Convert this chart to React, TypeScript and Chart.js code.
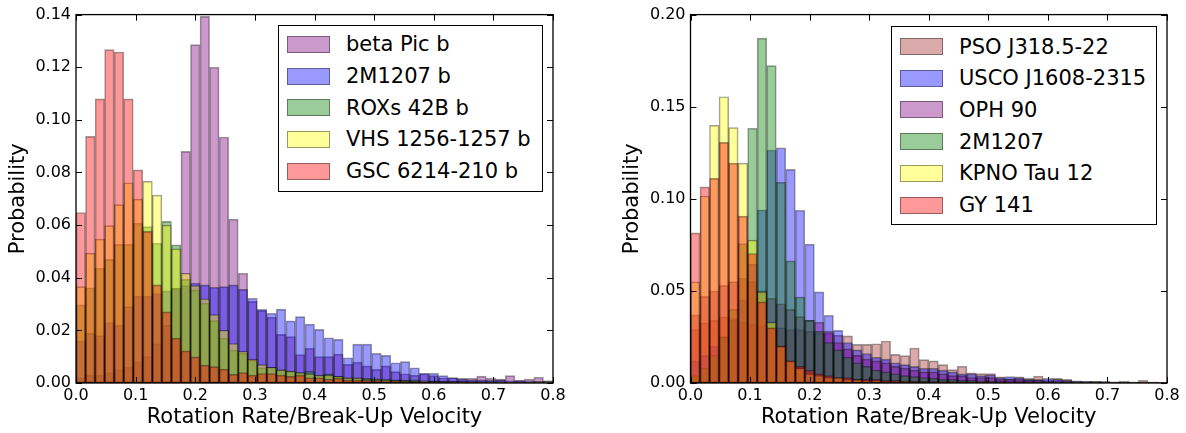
import React, { useEffect, useRef } from "react";
import { Chart, registerables } from "chart.js";

Chart.register(...registerables);

// ---------- shared axis data ----------
const BIN_WIDTH = 0.016;
const BIN_COUNT = 50;
const binCenters = Array.from({ length: BIN_COUNT }, (_, i) => +((i + 0.5) * BIN_WIDTH).toFixed(4));
const X_MIN = 0;
const X_MAX = 0.8;
const X_STEP = 0.1;
const X_TITLE = "Rotation Rate/Break-Up Velocity";
const Y_TITLE = "Probability";

// ---------- left panel ----------
const leftLabels = ["beta Pic b", "2M1207 b", "ROXs 42B b", "VHS 1256-1257 b", "GSC 6214-210 b"];
const LEFT_Y_MAX = 0.14;
const LEFT_Y_STEP = 0.02;

const betaPicB = [
  0.002, 0.003, 0.003, 0.004, 0.005, 0.006, 0.008, 0.010, 0.015, 0.022,
  0.036, 0.088, 0.1286, 0.1393, 0.120, 0.0935, 0.0623, 0.0417, 0.031, 0.0275,
  0.025, 0.0185, 0.0176, 0.0108, 0.0132, 0.010, 0.010, 0.011, 0.0071, 0.0079,
  0.0065, 0.0052, 0.0065, 0.0043, 0.0035, 0.003, 0.0035, 0.0028, 0.002, 0.002,
  0.0018, 0.0018, 0.0026, 0.0018, 0.0015, 0.0028, 0.001, 0.0015, 0.0022, 0.0008,
];
const m1207b = [
  0.016, 0.019, 0.018, 0.023, 0.022, 0.029, 0.033, 0.033, 0.034, 0.035,
  0.036, 0.037, 0.038, 0.0373, 0.0364, 0.0366, 0.0373, 0.0356, 0.0322, 0.028,
  0.0265, 0.0281, 0.0236, 0.0252, 0.0224, 0.0204, 0.0172, 0.0166, 0.0096, 0.0148,
  0.0148, 0.0113, 0.0105, 0.0077, 0.0081, 0.0058, 0.0037, 0.0037, 0.0028, 0.0021,
  0.0015, 0.0012, 0.0012, 0.001, 0.0012, 0.0008, 0.0009, 0.0007, 0.0006, 0.0005,
];
const roxs42Bb = [
  0.0297, 0.0362, 0.0436, 0.047, 0.0527, 0.0527, 0.0607, 0.0594, 0.0531, 0.0614,
  0.0525, 0.0394, 0.0354, 0.0303, 0.0237, 0.017, 0.0125, 0.0113, 0.0087, 0.0058,
  0.006, 0.005, 0.0045, 0.004, 0.0045, 0.003, 0.0035, 0.0025, 0.002, 0.002,
  0.0018, 0.0015, 0.0015, 0.0012, 0.001, 0.0012, 0.0008, 0.0008, 0.0007, 0.0006,
  0.0006, 0.0005, 0.0005, 0.0004, 0.0005, 0.0004, 0.0003, 0.0003, 0.0004, 0.0008,
];
const vhs1256b = [
  0.0366, 0.0493, 0.0547, 0.0598, 0.0678, 0.0761, 0.0699, 0.0766, 0.0714, 0.060,
  0.051, 0.0417, 0.037, 0.032, 0.026, 0.020, 0.015, 0.012, 0.009, 0.007,
  0.006, 0.005, 0.0045, 0.004, 0.0035, 0.003, 0.003, 0.0025, 0.002, 0.002,
  0.0015, 0.0015, 0.0012, 0.001, 0.001, 0.0008, 0.0008, 0.0006, 0.0006, 0.0005,
  0.0005, 0.0004, 0.0004, 0.0003, 0.0003, 0.0003, 0.0002, 0.0002, 0.0002, 0.0002,
];
const gsc6214b = [
  0.0648, 0.0937, 0.108, 0.1267, 0.1258, 0.108, 0.081, 0.0576, 0.0373, 0.027,
  0.017, 0.0122, 0.0099, 0.0068, 0.0062, 0.0053, 0.0033, 0.004, 0.003, 0.0036,
  0.0036, 0.003, 0.0025, 0.003, 0.002, 0.002, 0.0015, 0.0018, 0.0012, 0.0012,
  0.001, 0.001, 0.0008, 0.0008, 0.0006, 0.0006, 0.0005, 0.0005, 0.0004, 0.0004,
  0.0003, 0.0003, 0.0003, 0.0002, 0.0002, 0.0002, 0.0002, 0.0001, 0.0001, 0.0001,
];

// ---------- right panel ----------
const rightLabels = ["PSO J318.5-22", "USCO J1608-2315", "OPH 90", "2M1207", "KPNO Tau 12", "GY 141"];
const RIGHT_Y_MAX = 0.2;
const RIGHT_Y_STEP = 0.05;

const pso318 = [
  0.029, 0.0326, 0.034, 0.0359, 0.0343, 0.033, 0.032, 0.031, 0.030, 0.030,
  0.029, 0.029, 0.028, 0.027, 0.027, 0.026, 0.0256, 0.021, 0.021, 0.0213,
  0.0228, 0.0155, 0.0149, 0.019, 0.0127, 0.012, 0.010, 0.0073, 0.0091, 0.0055,
  0.0051, 0.0051, 0.0033, 0.0024, 0.0033, 0.0025, 0.0037, 0.0015, 0.0025, 0.002,
  0.001, 0.0008, 0.0008, 0.0006, 0.0005, 0.0007, 0.0007, 0.0015, 0.0006, 0.0003,
];
const usco1608 = [
  0.012, 0.015, 0.02, 0.025, 0.035, 0.045, 0.0645, 0.094, 0.1265, 0.1277,
  0.116, 0.0938, 0.0754, 0.0495, 0.0368, 0.0286, 0.022, 0.018, 0.016, 0.014,
  0.013, 0.011, 0.010, 0.009, 0.008, 0.008, 0.007, 0.006, 0.005, 0.005,
  0.004, 0.0045, 0.003, 0.0035, 0.003, 0.002, 0.002, 0.0025, 0.002, 0.0015,
  0.0012, 0.0009, 0.0008, 0.0009, 0.0006, 0.0005, 0.0004, 0.0004, 0.0003, 0.0002,
];
const oph90 = [
  0.037, 0.047, 0.05, 0.053, 0.055, 0.057, 0.055, 0.05, 0.046, 0.043,
  0.04, 0.036, 0.034, 0.033, 0.028, 0.022, 0.0185, 0.015, 0.013, 0.012,
  0.011, 0.009, 0.008, 0.007, 0.006, 0.006, 0.005, 0.004, 0.004, 0.003,
  0.003, 0.003, 0.002, 0.002, 0.002, 0.0015, 0.0015, 0.001, 0.001, 0.001,
  0.0008, 0.0008, 0.0006, 0.0006, 0.0005, 0.0005, 0.0004, 0.0004, 0.0003, 0.0003,
];
const m1207 = [
  0.004, 0.008, 0.015, 0.025, 0.04, 0.0757, 0.1383, 0.1872, 0.1723, 0.109,
  0.0663, 0.0467, 0.034, 0.028, 0.022, 0.018, 0.014, 0.011, 0.009, 0.007,
  0.006, 0.005, 0.004, 0.0035, 0.003, 0.0025, 0.002, 0.002, 0.0015, 0.0015,
  0.0012, 0.001, 0.001, 0.0008, 0.0008, 0.0007, 0.0006, 0.0005, 0.0005, 0.0004,
  0.0004, 0.0004, 0.0009, 0.0003, 0.0003, 0.0009, 0.0002, 0.0002, 0.0002, 0.0002,
];
const kpnoTau12 = [
  0.0549, 0.1015, 0.1399, 0.1554, 0.1386, 0.1194, 0.0776, 0.0495, 0.033, 0.02,
  0.012, 0.008, 0.005, 0.004, 0.003, 0.003, 0.002, 0.002, 0.0015, 0.0015,
  0.001, 0.001, 0.001, 0.0008, 0.0008, 0.0006, 0.0006, 0.0005, 0.0005, 0.0004,
  0.0004, 0.0003, 0.0003, 0.0003, 0.0002, 0.0002, 0.0002, 0.0002, 0.0001, 0.0001,
  0.0001, 0.0001, 0.0001, 0.0001, 0.0001, 0.0001, 0.0001, 0.0001, 0.0001, 0.0001,
];
const gy141 = [
  0.0815, 0.1065, 0.1111, 0.1306, 0.1194, 0.0906, 0.0703, 0.044, 0.030, 0.020,
  0.012, 0.009, 0.007, 0.005, 0.004, 0.003, 0.003, 0.002, 0.002, 0.002,
  0.0015, 0.0015, 0.001, 0.001, 0.0008, 0.0008, 0.0006, 0.0006, 0.0005, 0.0005,
  0.0004, 0.0004, 0.0003, 0.0003, 0.0003, 0.0002, 0.0002, 0.0002, 0.0002, 0.0001,
  0.0001, 0.0001, 0.0001, 0.0001, 0.0001, 0.0001, 0.0001, 0.0001, 0.0001, 0.0001,
];

// ---------- styling ----------
const FONT = "'DejaVu Sans', 'Liberation Sans', sans-serif";
const PURPLE = "rgba(128,0,128,0.4)";
const BLUE = "rgba(0,0,255,0.4)";
const GREEN = "rgba(0,128,0,0.4)";
const YELLOW = "rgba(255,255,0,0.4)";
const RED = "rgba(255,0,0,0.4)";
const BROWN = "rgba(165,42,42,0.4)";
const EDGE = "rgba(0,0,0,0.4)";

type Series = { label: string; values: number[]; fill: string };

const leftSeries: Series[] = [
  { label: leftLabels[0], values: betaPicB, fill: PURPLE },
  { label: leftLabels[1], values: m1207b, fill: BLUE },
  { label: leftLabels[2], values: roxs42Bb, fill: GREEN },
  { label: leftLabels[3], values: vhs1256b, fill: YELLOW },
  { label: leftLabels[4], values: gsc6214b, fill: RED },
];
const rightSeries: Series[] = [
  { label: rightLabels[0], values: pso318, fill: BROWN },
  { label: rightLabels[1], values: usco1608, fill: BLUE },
  { label: rightLabels[2], values: oph90, fill: PURPLE },
  { label: rightLabels[3], values: m1207, fill: GREEN },
  { label: rightLabels[4], values: kpnoTau12, fill: YELLOW },
  { label: rightLabels[5], values: gy141, fill: RED },
];

const TICK_LEN = 6;
const framePlugin = {
  id: "frame",
  afterDatasetsDraw(chart: any) {
    const { ctx, chartArea: a, scales } = chart;
    const xs = scales.x;
    const ys = scales.y;
    ctx.save();
    ctx.strokeStyle = "#000";
    ctx.lineWidth = 1;
    ctx.beginPath();
    xs.ticks.forEach((t: any) => {
      const px = Math.round(xs.getPixelForValue(t.value)) + 0.5;
      ctx.moveTo(px, a.bottom);
      ctx.lineTo(px, a.bottom - TICK_LEN);
      ctx.moveTo(px, a.top);
      ctx.lineTo(px, a.top + TICK_LEN);
    });
    ys.ticks.forEach((t: any) => {
      const py = Math.round(ys.getPixelForValue(t.value)) + 0.5;
      ctx.moveTo(a.left, py);
      ctx.lineTo(a.left + TICK_LEN, py);
      ctx.moveTo(a.right, py);
      ctx.lineTo(a.right - TICK_LEN, py);
    });
    ctx.stroke();
    ctx.lineWidth = 1.3;
    ctx.strokeRect(a.left, a.top, a.right - a.left, a.bottom - a.top);
    ctx.restore();
  },
};

type HistProps = {
  series: Series[];
  yMax: number;
  yStep: number;
  width: number;
  height: number;
  padLeft: number;
  padRight: number;
  padTop: number;
  yAxisWidth: number;
  xAxisHeight: number;
};

function HistChart(p: HistProps) {
  const ref = useRef<HTMLCanvasElement>(null);
  useEffect(() => {
    const n = p.series.length;
    const chart = new Chart(ref.current as HTMLCanvasElement, {
      type: "bar",
      data: {
        datasets: p.series.map((s, i) => ({
          label: s.label,
          data: s.values.map((v, j) => ({ x: binCenters[j], y: v })),
          backgroundColor: s.fill,
          borderColor: EDGE,
          borderWidth: 1,
          borderSkipped: false,
          grouped: false,
          barPercentage: 1,
          categoryPercentage: 1,
          order: n - i,
        })) as any,
      },
      options: {
        responsive: false,
        animation: false,
        layout: { padding: { left: p.padLeft, right: p.padRight, top: p.padTop, bottom: 0 } },
        plugins: { legend: { display: false }, tooltip: { enabled: false } },
        scales: {
          x: {
            type: "linear",
            min: X_MIN,
            max: X_MAX,
            offset: false,
            grid: { display: false, drawTicks: false },
            border: { display: false },
            ticks: {
              stepSize: X_STEP,
              autoSkip: false,
              maxRotation: 0,
              padding: 3,
              color: "#000",
              font: { family: FONT, size: 16 },
              callback: (v: any) => Number(v).toFixed(1),
            },
            title: {
              display: true,
              text: X_TITLE,
              color: "#000",
              font: { family: FONT, size: 21 },
              padding: { top: 0, bottom: 3 },
            },
            afterFit: (s: any) => {
              s.height = p.xAxisHeight;
            },
          },
          y: {
            type: "linear",
            min: 0,
            max: p.yMax,
            grid: { display: false, drawTicks: false },
            border: { display: false },
            ticks: {
              stepSize: p.yStep,
              padding: 5,
              color: "#000",
              font: { family: FONT, size: 16 },
              callback: (v: any) => Number(v).toFixed(2),
            },
            title: {
              display: true,
              text: Y_TITLE,
              color: "#000",
              font: { family: FONT, size: 21 },
              padding: { top: 6, bottom: 0 },
            },
            afterFit: (s: any) => {
              s.width = p.yAxisWidth;
            },
          },
        },
      } as any,
      plugins: [framePlugin],
    });
    return () => chart.destroy();
  }, []);
  return (
    <canvas
      ref={ref}
      width={p.width}
      height={p.height}
      style={{ display: "block", width: p.width, height: p.height }}
    />
  );
}

type LegendProps = { series: Series[]; left: number; top: number; width: number; height: number; firstRow: number };

function Legend({ series, left, top, width, height, firstRow }: LegendProps) {
  const ROW = 31.7;
  return (
    <div
      style={{
        position: "absolute",
        left,
        top,
        width,
        height,
        boxSizing: "border-box",
        border: "1.3px solid #000",
        background: "#fff",
      }}
    >
      {series.map((s, i) => {
        const cy = firstRow + i * ROW;
        return (
          <React.Fragment key={s.label}>
            <div
              style={{
                position: "absolute",
                left: 8,
                top: cy - 8.5,
                width: 43,
                height: 17,
                boxSizing: "border-box",
                background: s.fill,
                border: `1px solid ${EDGE}`,
              }}
            />
            <div
              style={{
                position: "absolute",
                left: 67,
                top: cy - 13,
                height: 26,
                lineHeight: "26px",
                fontFamily: FONT,
                fontSize: 21,
                color: "#000",
                whiteSpace: "nowrap",
              }}
            >
              {s.label}
            </div>
          </React.Fragment>
        );
      })}
    </div>
  );
}

export default function App() {
  return (
    <div style={{ position: "absolute", left: 0, top: 0, width: 1186, height: 433, background: "#fff", overflow: "hidden" }}>
      <div style={{ position: "absolute", left: 0, top: 0 }}>
        <HistChart
          series={leftSeries}
          yMax={LEFT_Y_MAX}
          yStep={LEFT_Y_STEP}
          width={600}
          height={433}
          padLeft={0}
          padRight={47}
          padTop={14.5}
          yAxisWidth={76}
          xAxisHeight={50}
        />
      </div>
      <div style={{ position: "absolute", left: 600, top: 0 }}>
        <HistChart
          series={rightSeries}
          yMax={RIGHT_Y_MAX}
          yStep={RIGHT_Y_STEP}
          width={586}
          height={433}
          padLeft={14}
          padRight={19}
          padTop={14.5}
          yAxisWidth={76.5}
          xAxisHeight={50}
        />
      </div>
      <Legend series={leftSeries} left={278} top={25} width={265} height={167} firstRow={18.3} />
      <Legend series={rightSeries} left={891} top={26} width={266} height={199} firstRow={19.5} />
    </div>
  );
}
